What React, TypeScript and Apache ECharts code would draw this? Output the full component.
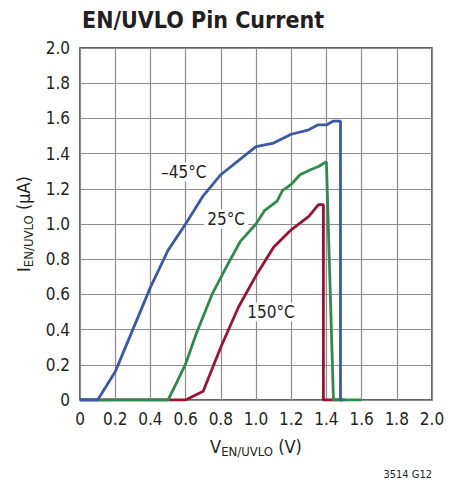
import React, { useEffect, useRef } from "react";
import * as echarts from "echarts";

const xTicks = [0, 0.2, 0.4, 0.6, 0.8, 1.0, 1.2, 1.4, 1.6, 1.8, 2.0];
const yTicks = [0, 0.2, 0.4, 0.6, 0.8, 1.0, 1.2, 1.4, 1.6, 1.8, 2.0];

const seriesNames = ["150°C", "25°C", "–45°C"];

const vMinus45 = [0, 0.1, 0.2, 0.4, 0.5, 0.6, 0.7, 0.8, 0.9, 1.0, 1.1, 1.2, 1.3, 1.35, 1.4, 1.44, 1.48, 1.48, 1.49];
const iMinus45 = [0, 0, 0.16, 0.64, 0.85, 1.0, 1.16, 1.28, 1.36, 1.44, 1.46, 1.51, 1.535, 1.563, 1.563, 1.585, 1.585, 0, 0];

const v25 = [0, 0.5, 0.55, 0.6, 0.66, 0.75, 0.85, 0.91, 1.0, 1.05, 1.12, 1.15, 1.2, 1.25, 1.31, 1.355, 1.4, 1.44, 1.6];
const i25 = [0, 0, 0.1, 0.205, 0.375, 0.6, 0.79, 0.9, 1.0, 1.078, 1.13, 1.19, 1.225, 1.28, 1.308, 1.327, 1.354, 0, 0];

const v150 = [0, 0.6, 0.7, 0.8, 0.9, 1.0, 1.1, 1.2, 1.3, 1.355, 1.383, 1.383, 1.505];
const i150 = [0, 0, 0.05, 0.3, 0.527, 0.707, 0.868, 0.967, 1.043, 1.11, 1.11, 0, 0];

const labelPos = [
  [1.085, 0.5],
  [0.83, 1.028],
  [0.59, 1.295],
];

const colors = ["#9c1235", "#2e8b4e", "#3c58a8"];

const FONT = "'Liberation Sans Narrow', 'DejaVu Sans Condensed', 'Arial Narrow', sans-serif";

const zip = (xs: number[], ys: number[]) => xs.map((x, i) => [x, ys[i]]);

export default function App() {
  const ref = useRef<HTMLDivElement>(null);
  useEffect(() => {
    if (!ref.current) return;
    const chart = echarts.init(ref.current, undefined, { renderer: "svg" });
    const datasets = [zip(v150, i150), zip(v25, i25), zip(vMinus45, iMinus45)];
    const fmt = (v: number) => (v === 0 ? "0" : v.toFixed(1));
    chart.setOption({
      animation: false,
      backgroundColor: "#ffffff",
      textStyle: { fontFamily: FONT },
      title: {
        text: "EN/UVLO Pin Current",
        left: 77,
        top: 3,
        textStyle: { fontFamily: FONT, fontWeight: "bold", fontSize: 23, color: "#231f20" },
      },
      grid: {
        left: 80,
        right: 25,
        top: 48,
        bottom: 87,
        show: true,
        borderColor: "#333333",
        borderWidth: 1.5,
      },
      xAxis: {
        type: "value",
        min: 0,
        max: 2,
        interval: 0.2,
        axisLine: { show: false },
        axisTick: { show: false },
        splitLine: { lineStyle: { color: "#8c8c8c", width: 1.2 } },
        axisLabel: { formatter: fmt, fontFamily: FONT, fontSize: 17, color: "#231f20", margin: 10 },
        name: "{m|V}{s|EN/UVLO}{m| (V)}",
        nameLocation: "middle",
        nameGap: 35,
        nameTextStyle: {
          rich: {
            m: { fontFamily: FONT, fontSize: 18, color: "#231f20" },
            s: { fontFamily: FONT, fontSize: 13, color: "#231f20", padding: [10, 0, 0, 0] },
          },
        },
      },
      yAxis: {
        type: "value",
        min: 0,
        max: 2,
        interval: 0.2,
        axisLine: { show: false },
        axisTick: { show: false },
        splitLine: { lineStyle: { color: "#8c8c8c", width: 1.2 } },
        axisLabel: { formatter: fmt, fontFamily: FONT, fontSize: 17, color: "#231f20", margin: 10 },
        name: "{m|I}{s|EN/UVLO}{m| (μA)}",
        nameLocation: "middle",
        nameRotate: 90,
        nameGap: 37,
        nameTextStyle: {
          rich: {
            m: { fontFamily: FONT, fontSize: 18, color: "#231f20" },
            s: { fontFamily: FONT, fontSize: 13, color: "#231f20", padding: [10, 0, 0, 0] },
          },
        },
      },
      graphic: [
        {
          type: "text",
          right: 25,
          top: 469,
          style: { text: "3514 G12", font: `11px ${FONT}`, fill: "#231f20" },
        },
      ],
      series: datasets.map((d, i) => ({
        type: "line",
        name: seriesNames[i],
        data: d,
        symbol: "none",
        lineStyle: { color: colors[i], width: 2.8 },
        z: 3 + i,
        markPoint: {
          symbol: "rect",
          symbolSize: 0,
          z: 20,
          data: [
            {
              coord: labelPos[i],
              label: {
                show: true,
                formatter: seriesNames[i],
                position: "inside",
                fontFamily: FONT,
                fontSize: 17,
                color: "#231f20",
                backgroundColor: "#ffffff",
                padding: [1, 3],
              },
            },
          ],
        },
      })),
    });
    return () => chart.dispose();
  }, []);
  return <div ref={ref} style={{ position: "absolute", left: 0, top: 0, width: 457, height: 487 }} />;
}
